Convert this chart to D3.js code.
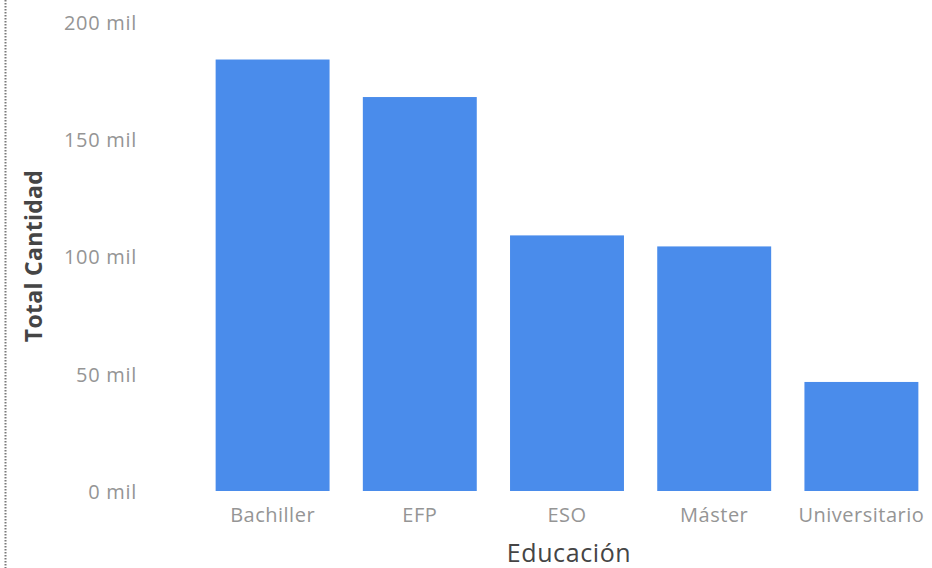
<!DOCTYPE html>
<html>
<head>
<meta charset="utf-8">
<script src="https://cdn.jsdelivr.net/npm/d3@7"></script>
<style>
  html, body { margin: 0; padding: 0; background: #fff; }
  svg { display: block; }
</style>
</head>
<body>
<svg id="chart" width="932" height="568"></svg>
<script>
const categories = ["Bachiller", "EFP", "ESO", "Máster", "Universitario"];
const values = [184000, 168000, 109000, 104300, 46500];
const yTicks = [0, 50000, 100000, 150000, 200000];
const yTickLabels = ["0 mil", "50 mil", "100 mil", "150 mil", "200 mil"];
const xTitle = "Educación";
const yTitle = "Total Cantidad";

const svg = d3.select("#chart");
const font = "'Segoe UI', 'Open Sans', 'Noto Sans', sans-serif";

const x = d3.scaleBand().domain(categories).range([199, 935]).paddingInner(0.226).paddingOuter(0.113);
const y = d3.scaleLinear().domain([0, 200000]).range([491, 22]);

// dotted left border
svg.append("line")
  .attr("x1", 5.5).attr("x2", 5.5).attr("y1", 0).attr("y2", 568)
  .attr("stroke", "#7a7a7a").attr("stroke-width", 2).attr("stroke-dasharray", "1.5,1.5");

// bars
svg.append("g").selectAll("rect").data(categories).join("rect")
  .attr("x", d => x(d))
  .attr("width", x.bandwidth())
  .attr("y", (d, i) => y(values[i]))
  .attr("height", (d, i) => y(0) - y(values[i]))
  .attr("fill", "#4a8ceb");

// y axis
const yAxis = d3.axisLeft(y).tickValues(yTicks)
  .tickFormat((d, i) => yTickLabels[i]).tickSize(0).tickPadding(0);
const gy = svg.append("g").attr("transform", "translate(137,1)").call(yAxis);
gy.select(".domain").remove();
gy.selectAll("text").attr("font-family", font).attr("font-size", 20)
  .attr("letter-spacing", 0.7).attr("fill", "#959595");

// x axis
const xAxis = d3.axisBottom(x).tickSize(0).tickPadding(0);
const gx = svg.append("g").attr("transform", "translate(0,508)").call(xAxis);
gx.select(".domain").remove();
gx.selectAll("text").attr("font-family", font).attr("font-size", 20)
  .attr("letter-spacing", 0.5).attr("fill", "#959595");

// axis titles
svg.append("text")
  .attr("x", 569).attr("y", 562)
  .attr("text-anchor", "middle")
  .attr("font-family", font).attr("font-size", 25).attr("letter-spacing", 0.6).attr("fill", "#454545")
  .text(xTitle);

svg.append("text")
  .attr("transform", "translate(42,256) rotate(-90)")
  .attr("text-anchor", "middle")
  .attr("font-family", font).attr("font-size", 23).attr("font-weight", "bold")
  .attr("letter-spacing", 0.3).attr("fill", "#454545")
  .text(yTitle);
</script>
</body>
</html>
